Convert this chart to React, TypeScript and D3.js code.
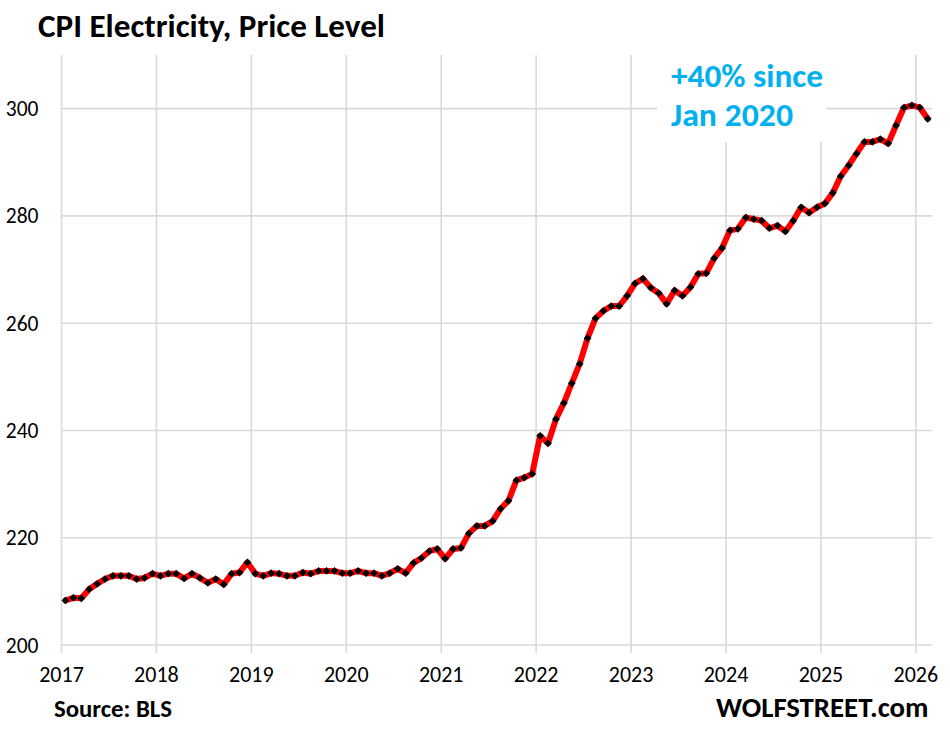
import React from 'react';
import * as d3 from 'd3';

// CPI electricity index, monthly
const cpi2017 = [208.3, 208.8, 208.7, 210.4, 211.4, 212.3, 212.9, 212.9, 212.9, 212.3, 212.5, 213.3];
const cpi2018 = [212.9, 213.3, 213.3, 212.4, 213.3, 212.5, 211.6, 212.3, 211.3, 213.3, 213.5, 215.4];
const cpi2019 = [213.3, 212.9, 213.4, 213.3, 212.9, 212.9, 213.5, 213.3, 213.8, 213.8, 213.8, 213.4];
const cpi2020 = [213.4, 213.8, 213.4, 213.4, 212.9, 213.4, 214.2, 213.4, 215.3, 216.2, 217.5, 217.9];
const cpi2021 = [216.1, 217.9, 218.1, 220.8, 222.2, 222.2, 223.1, 225.4, 226.9, 230.7, 231.2, 231.9];
const cpi2022 = [239.0, 237.6, 242.1, 245.1, 248.8, 252.4, 257.2, 260.9, 262.3, 263.2, 263.2, 265.1];
const cpi2023 = [267.4, 268.3, 266.6, 265.6, 263.6, 266.1, 265.1, 266.7, 269.2, 269.3, 272.1, 274.0];
const cpi2024 = [277.3, 277.6, 279.7, 279.4, 279.1, 277.7, 278.2, 277.1, 279.1, 281.6, 280.6, 281.6];
const cpi2025 = [282.3, 284.3, 287.4, 289.4, 291.6, 293.8, 293.8, 294.3, 293.5, 296.9, 300.2, 300.6];
const cpi2026 = [300.2, 298.1];

const years = [2017, 2018, 2019, 2020, 2021, 2022, 2023, 2024, 2025, 2026];
const yTicks = [200, 220, 240, 260, 280, 300];

const title = 'CPI Electricity, Price Level';
const note = ['+40% since', 'Jan 2020'];
const source = 'Source: BLS';
const brand = 'WOLFSTREET.com';

const FONT = 'Carlito, Calibri, Lato, sans-serif';

type Pt = { t: number; v: number };

const series: Pt[] = [cpi2017, cpi2018, cpi2019, cpi2020, cpi2021, cpi2022, cpi2023, cpi2024, cpi2025, cpi2026]
  .flatMap((vals, i) => vals.map((v, m) => ({ t: years[i] + (m + 0.5) / 12, v })));

export default function App() {
  const ref = React.useRef<SVGSVGElement>(null);

  React.useEffect(() => {
    const svg = d3.select(ref.current);
    svg.selectAll('*').remove();

    const width = 950;
    const height = 736;
    const margin = { top: 55, right: 18, bottom: 91, left: 61.5 };

    const x = d3
      .scaleLinear()
      .domain([2017, 2026.17])
      .range([margin.left, width - margin.right]);

    const y = d3
      .scaleLinear()
      .domain([200, 310])
      .range([height - margin.bottom, margin.top]);

    const grid = svg.append('g').attr('stroke', '#d9d9d9').attr('stroke-width', 1.6);

    grid
      .selectAll('.hg')
      .data(yTicks)
      .join('line')
      .attr('x1', x(2017))
      .attr('x2', width - margin.right)
      .attr('y1', (d) => y(d))
      .attr('y2', (d) => y(d));

    grid
      .selectAll('.vg')
      .data(years)
      .join('line')
      .attr('x1', (d) => x(d))
      .attr('x2', (d) => x(d))
      .attr('y1', y(310))
      .attr('y2', y(200) + 8);

    // white box behind the annotation
    svg
      .append('rect')
      .attr('x', 657)
      .attr('y', 50)
      .attr('width', 169)
      .attr('height', 92)
      .attr('fill', '#fff');

    // y labels
    svg
      .append('g')
      .selectAll('text')
      .data(yTicks)
      .join('text')
      .attr('x', 38.5)
      .attr('y', (d) => y(d))
      .attr('dy', '0.35em')
      .attr('text-anchor', 'end')
      .attr('font-family', FONT)
      .attr('font-size', 21.5)
      .attr('fill', '#000')
      .text((d) => d);

    // x labels
    svg
      .append('g')
      .selectAll('text')
      .data(years)
      .join('text')
      .attr('x', (d) => x(d))
      .attr('y', 682)
      .attr('text-anchor', 'middle')
      .attr('font-family', FONT)
      .attr('font-size', 22)
      .attr('fill', '#000')
      .text((d) => d);

    const line = d3
      .line<Pt>()
      .x((d) => x(d.t))
      .y((d) => y(d.v));

    svg
      .append('path')
      .datum(series)
      .attr('d', line)
      .attr('fill', 'none')
      .attr('stroke', '#ff0000')
      .attr('stroke-width', 6)
      .attr('stroke-linejoin', 'round')
      .attr('stroke-linecap', 'round');

    const diamond = d3.symbol(d3.symbolSquare, 30);
    svg
      .append('g')
      .selectAll('path')
      .data(series)
      .join('path')
      .attr('d', diamond)
      .attr('transform', (d) => `translate(${x(d.t)},${y(d.v)}) rotate(45)`)
      .attr('fill', '#000');

    svg
      .append('text')
      .attr('x', 38)
      .attr('y', 37)
      .attr('font-family', FONT)
      .attr('font-weight', 'bold')
      .attr('font-size', 32)
      .attr('textLength', 347)
      .attr('lengthAdjust', 'spacingAndGlyphs')
      .attr('fill', '#000')
      .text(title);

    svg
      .append('g')
      .selectAll('text')
      .data(note)
      .join('text')
      .attr('x', 671)
      .attr('y', (d, i) => 87 + i * 39)
      .attr('font-family', FONT)
      .attr('font-weight', 'bold')
      .attr('font-size', 33)
      .attr('textLength', (d, i) => (i === 0 ? 152 : 122))
      .attr('lengthAdjust', 'spacingAndGlyphs')
      .attr('fill', '#00b0f0')
      .text((d) => d);

    svg
      .append('text')
      .attr('x', 54)
      .attr('y', 717)
      .attr('font-family', FONT)
      .attr('font-weight', 'bold')
      .attr('font-size', 25)
      .attr('textLength', 118)
      .attr('lengthAdjust', 'spacingAndGlyphs')
      .attr('fill', '#000')
      .text(source);

    svg
      .append('text')
      .attr('x', 716)
      .attr('y', 717)
      .attr('font-family', FONT)
      .attr('font-weight', 'bold')
      .attr('font-size', 28.5)
      .attr('textLength', 212.5)
      .attr('lengthAdjust', 'spacingAndGlyphs')
      .attr('fill', '#000')
      .text(brand);
  }, []);

  return (
    <svg
      ref={ref}
      width={950}
      height={736}
      style={{ position: 'absolute', left: 0, top: 0, background: '#fff' }}
    />
  );
}
